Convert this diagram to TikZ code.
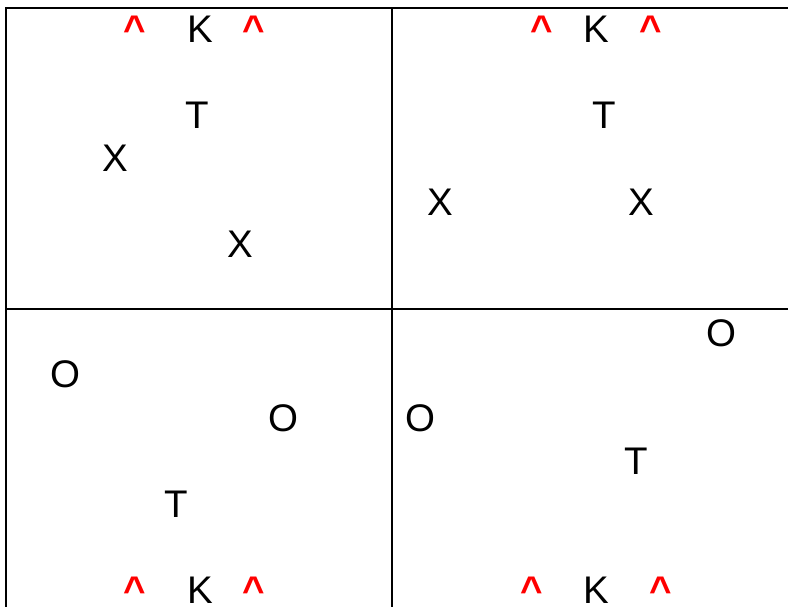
\documentclass[tikz,border=0pt]{standalone}
\usepackage{fontspec}
\setmainfont{Liberation Sans}
\begin{document}
\begin{tikzpicture}[x=1pt,y=-1pt,
  grid/.style={line width=2pt,black},
  piece/.style={anchor=base,inner sep=0pt,outer sep=0pt,font=\fontsize{38.5}{40}\selectfont},
  hat/.style={anchor=base,inner sep=0pt,outer sep=0pt,text=red,font=\fontsize{38.5}{40}\selectfont\bfseries}]
\clip (0,0) rectangle (788,607);
\fill[white] (0,0) rectangle (788,607);
% grid lines
\coordinate (tl) at (6,8);
\coordinate (tr) at (792,8);
\coordinate (bl) at (6,612);
\coordinate (mt) at (392,8);
\coordinate (mb) at (392,612);
\coordinate (ml) at (6,308.7);
\coordinate (mr) at (792,308.7);
\draw[grid] (bl) -- (tl) -- (tr);
\draw[grid] (mt) -- (mb);
\draw[grid] (ml) -- (mr);
% top-left cell
\node[hat] (c1) at (134.5,43) {\char94};
\node[piece] (k1) at (200,43) {K};
\node[hat] (c2) at (254,43) {\char94};
\node[piece] (t1) at (197.5,129) {T};
\node[piece] (x1) at (115,172) {X};
\node[piece] (x2) at (240,258) {X};
% top-right cell
\node[hat] (c3) at (541.7,43) {\char94};
\node[piece] (k2) at (596.7,43) {K};
\node[hat] (c4) at (650.5,43) {\char94};
\node[piece] (t2) at (604.5,129) {T};
\node[piece] (x3) at (440,215) {X};
\node[piece] (x4) at (641.5,215) {X};
% bottom-left cell
\node[piece] (o1) at (65,387.5) {O};
\node[piece] (o2) at (283,431) {O};
\node[piece] (t3) at (176,517) {T};
\node[hat] (c5) at (134.5,603) {\char94};
\node[piece] (k3) at (200,603) {K};
\node[hat] (c6) at (254,603) {\char94};
% bottom-right cell
\node[piece] (o3) at (721,346) {O};
\node[piece] (o4) at (420.5,431.5) {O};
\node[piece] (t4) at (636,474) {T};
\node[hat] (c7) at (531.5,603) {\char94};
\node[piece] (k4) at (596.5,603) {K};
\node[hat] (c8) at (661,603) {\char94};
\end{tikzpicture}
\end{document}
